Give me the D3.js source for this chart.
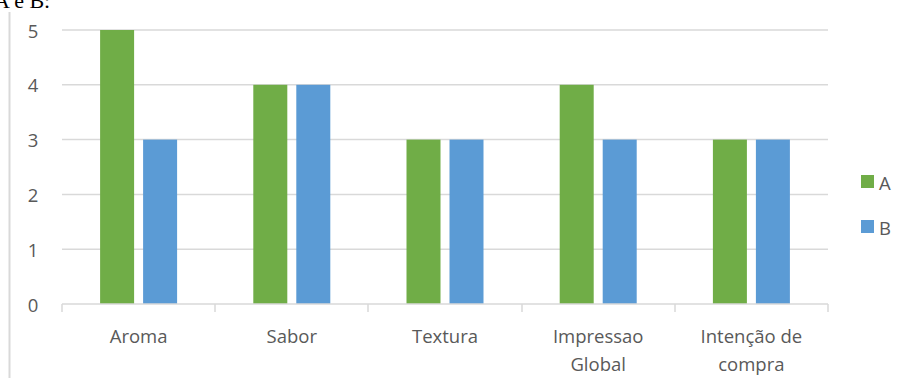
<!DOCTYPE html>
<html>
<head>
<meta charset="utf-8">
<script src="https://cdn.jsdelivr.net/npm/d3@7"></script>
<style>
	body { margin: 0; background: #fff; }
	text { font-family: 'Open Sans', sans-serif; fill: #595959; }
</style>
</head>
<body>
<div id="root"></div>
<script>
const categories	= [['Aroma'], ['Sabor'], ['Textura'], ['Impressao', 'Global'], ['Intenção de', 'compra']];
const series		= ['A', 'B'];
const values_a		= [5, 4, 3, 4, 3];
const values_b		= [3, 4, 3, 3, 3];
const y_ticks		= [0, 1, 2, 3, 4, 5];
const colors		= ['#70AD47', '#5B9BD5'];

const width		= 908;
const height	= 378;
const plot		= { left: 62, right: 828, top: 30, bottom: 304 };
const font_size	= '18.5px';

const svg	= d3.select('#root').append('svg')
	.attr('width', width)
	.attr('height', height);

// cut off caption above the chart
svg.append('text')
	.attr('x', -6)
	.attr('y', 8)
	.style('font-family', "'Liberation Serif', serif")
	.style('font-size', '22px')
	.style('fill', '#000')
	.text('A e B:');

svg.append('line')
	.attr('x1', 9.5).attr('x2', 9.5)
	.attr('y1', 12).attr('y2', height)
	.attr('stroke', '#d9d9d9')
	.attr('stroke-width', 2);

const x0	= d3.scaleBand()
	.domain(d3.range(categories.length))
	.range([plot.left, plot.right]);

const y		= d3.scaleLinear()
	.domain([0, 5])
	.range([plot.bottom, plot.top]);

// gridlines
svg.append('g')
	.selectAll('line').data(y_ticks.filter((o) => o > 0)).enter().append('line')
	.attr('x1', plot.left).attr('x2', plot.right)
	.attr('y1', (o) => y(o)).attr('y2', (o) => y(o))
	.attr('stroke', '#d9d9d9')
	.attr('stroke-width', 1.5);

svg.append('g')
	.selectAll('text').data(y_ticks).enter().append('text')
	.attr('x', 33)
	.attr('y', (o) => y(o))
	.attr('text-anchor', 'middle')
	.attr('dominant-baseline', 'central')
	.style('font-size', font_size)
	.text((o) => o);

const bar_w	= 34;
const gap	= 9;
const data	= categories.map((c, i) => [values_a[i], values_b[i]]);

const groups	= svg.append('g').selectAll('g').data(data).enter().append('g')
	.attr('transform', (o, i) => 'translate(' + (x0(i) + x0.bandwidth() / 2) + ',0)');

groups.selectAll('rect').data((o) => o).enter().append('rect')
	.attr('x', (o, j) => j == 0 ? -(bar_w + gap / 2) : gap / 2)
	.attr('y', (o) => y(o))
	.attr('width', bar_w)
	.attr('height', (o) => y(0) - y(o))
	.attr('fill', (o, j) => colors[j]);

// x axis
const axis	= svg.append('g').attr('stroke', '#d9d9d9').attr('stroke-width', 1.5);
axis.append('line')
	.attr('x1', plot.left).attr('x2', plot.right)
	.attr('y1', y(0)).attr('y2', y(0));
axis.selectAll('.tick').data(d3.range(categories.length + 1)).enter().append('line')
	.attr('x1', (o) => Math.round(plot.left + o * x0.bandwidth()))
	.attr('x2', (o) => Math.round(plot.left + o * x0.bandwidth()))
	.attr('y1', y(0)).attr('y2', y(0) + 8);

const labels	= svg.append('g').selectAll('text').data(categories).enter().append('text')
	.attr('x', (o, i) => x0(i) + x0.bandwidth() / 2)
	.attr('y', 343)
	.attr('text-anchor', 'middle')
	.style('font-size', font_size);

labels.selectAll('tspan').data((o) => o).enter().append('tspan')
	.attr('x', function() { return this.parentNode.getAttribute('x'); })
	.attr('dy', (o, i) => i == 0 ? 0 : 28)
	.text((o) => o);

// legend
const legend	= svg.append('g').selectAll('g').data(series).enter().append('g')
	.attr('transform', (o, i) => 'translate(861,' + (175 + i * 45) + ')');

legend.append('rect')
	.attr('width', 13).attr('height', 13)
	.attr('fill', (o, i) => colors[i]);

legend.append('text')
	.attr('x', 18)
	.attr('y', 7)
	.attr('dominant-baseline', 'central')
	.style('font-size', font_size)
	.text((o) => o);
</script>
</body>
</html>
